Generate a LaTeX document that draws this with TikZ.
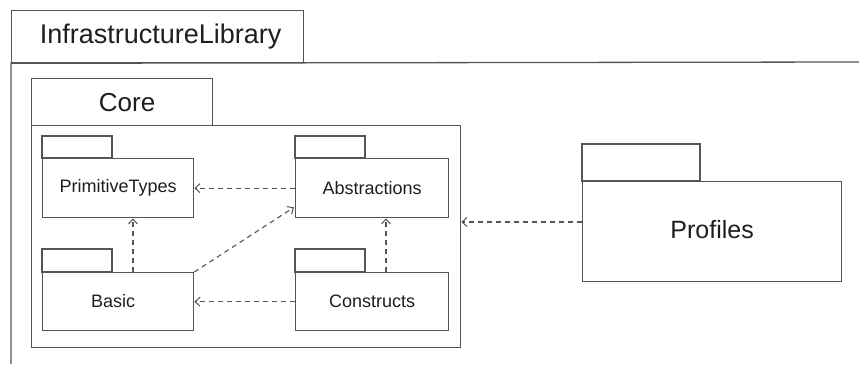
\documentclass[tikz,border=0pt]{standalone}
\usepackage{fontspec}
\setmainfont{Liberation Sans}
\usetikzlibrary{arrows.meta,calc}
\definecolor{linegray}{HTML}{555555}
\definecolor{textgray}{HTML}{1E1E1E}
\tikzset{
  pkgbody/.style={draw=linegray, line width=1.3pt, fill=white, inner sep=0pt,
    text=textgray, anchor=north west},
  pkgtab/.style={draw=linegray, line width=1.3pt},
  dep/.style={draw=linegray, line width=1.1pt, dash pattern=on 5pt off 4pt,
    -{Straight Barb[length=5pt,width=9pt,line width=1pt]}},
}
% tab of a package: drawn on top of the body's north west corner
\newcommand{\pkgtabat}[3]{%
  \draw[pkgtab] (#1.north west) rectangle ++(#2,-#3);}
\begin{document}
\begin{tikzpicture}[x=1pt,y=-1pt]
\useasboundingbox (0,0) rectangle (859,364);

% outer package: InfrastructureLibrary
\node[draw=linegray, line width=1.3pt, inner sep=0pt, anchor=north west,
  minimum width=292pt, minimum height=52pt, text=textgray,
  font=\fontsize{27}{29}\selectfont] (infratab) at (11,10)
  {\hspace*{6pt}InfrastructureLibrary};
\coordinate (infrabl) at (11,364);
\coordinate (infratr) at (859,62);
\draw[linegray, line width=1.3pt] (infrabl) -- (infratab.south west) -- (infratr);

% Core package
\node[pkgbody, minimum width=181pt, minimum height=47pt,
  font=\fontsize{26}{28}\selectfont] (coretab) at (31,78) {\hspace*{10pt}Core};
\node[pkgbody, minimum width=429pt, minimum height=222pt] (core) at (31,125) {};

% packages inside Core
\node[pkgbody, minimum width=151pt, minimum height=59pt,
  font=\fontsize{18}{20}\selectfont] (prim) at (42,158) {PrimitiveTypes};
\pkgtabat{prim}{70}{22}
\node[pkgbody, minimum width=153pt, minimum height=59pt,
  font=\fontsize{18}{20}\selectfont] (abs) at (295,158) {Abstractions};
\pkgtabat{abs}{70}{22}
\node[pkgbody, minimum width=151pt, minimum height=58pt,
  font=\fontsize{18}{20}\selectfont] (basic) at (42,272)
  {\raisebox{2pt}{Basic\hspace*{10pt}}};
\pkgtabat{basic}{70}{23}
\node[pkgbody, minimum width=153pt, minimum height=58pt,
  font=\fontsize{18}{20}\selectfont] (cons) at (295,272)
  {\raisebox{1pt}{Constructs}};
\pkgtabat{cons}{70}{23}

% Profiles package
\node[pkgbody, minimum width=259pt, minimum height=100pt,
  font=\fontsize{25}{27}\selectfont] (prof) at (582,181)
  {\raisebox{5pt}{Profiles}};
\pkgtabat{prof}{118}{37}

% dependencies
\draw[dep] (abs.west) -- (prim.east);
\draw[dep] (basic.north -| 133,0) -- (prim.south -| 133,0);
\draw[dep] (basic.north east) -- ($(abs.south west)+(-1,-11)$);
\draw[dep] (cons.west) -- (basic.east);
\draw[dep] (cons.north -| 386,0) -- (abs.south -| 386,0);
\draw[dep] (prof.west |- 0,222) -- (core.east |- 0,222);
\end{tikzpicture}
\end{document}
